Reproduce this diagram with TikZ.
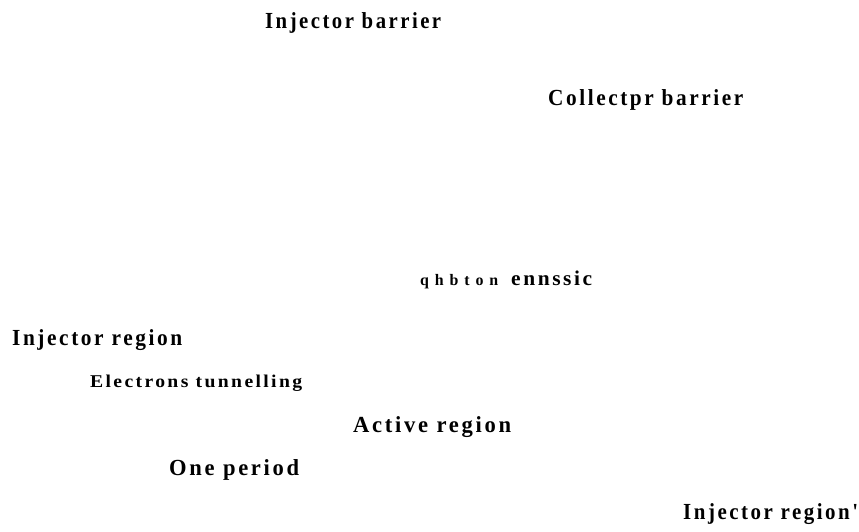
\documentclass[tikz,border=0pt]{standalone}
\usepackage{fontspec}
\setmainfont{Liberation Serif}[LetterSpace=12]
\newfontfamily\nomapfont{Liberation Serif}[LetterSpace=12,Ligatures=ResetAll]
\usepackage{graphicx}
\newcommand{\fitw}[2]{\resizebox{#1}{\height}{#2}}
\begin{document}
\begin{tikzpicture}[x=1pt,y=1pt,
  lbl/.style={anchor=base west,inner sep=0pt,font=\bfseries\fontsize{23}{26}\selectfont},
  smalllbl/.style={anchor=base west,inner sep=0pt,font=\bfseries\fontsize{18}{21}\selectfont}]
\useasboundingbox (0,0) rectangle (859,531);
\node[lbl] (ib) at (265,531-29) {\fitw{176pt}{Injector barrier}};
\node[lbl] (cb) at (548,531-106) {\fitw{195pt}{Collectpr barrier}};
\node[anchor=base west,inner sep=0pt,font=\bfseries\fontsize{16}{19}\selectfont] (qh) at (420,531-285) {\fitw{78pt}{q h b t o n}};
\node[anchor=base west,inner sep=0pt,font=\bfseries\fontsize{21}{24}\selectfont] (en) at (511,531-285) {\fitw{81pt}{ennssic}};
\node[lbl] (ir) at (12,531-345) {\fitw{170pt}{Injector region}};
\node[smalllbl] (et) at (90,531-387) {\fitw{212pt}{Electrons tunnelling}};
\node[lbl] (ar) at (353,531-432) {\fitw{158pt}{Active region}};
\node[lbl] (op) at (169,531-475) {\fitw{130pt}{One period}};
\node[lbl] (ir2) at (683,531-519) {\fitw{175pt}{{\nomapfont\bfseries Injector region'}}};
\end{tikzpicture}
\end{document}
